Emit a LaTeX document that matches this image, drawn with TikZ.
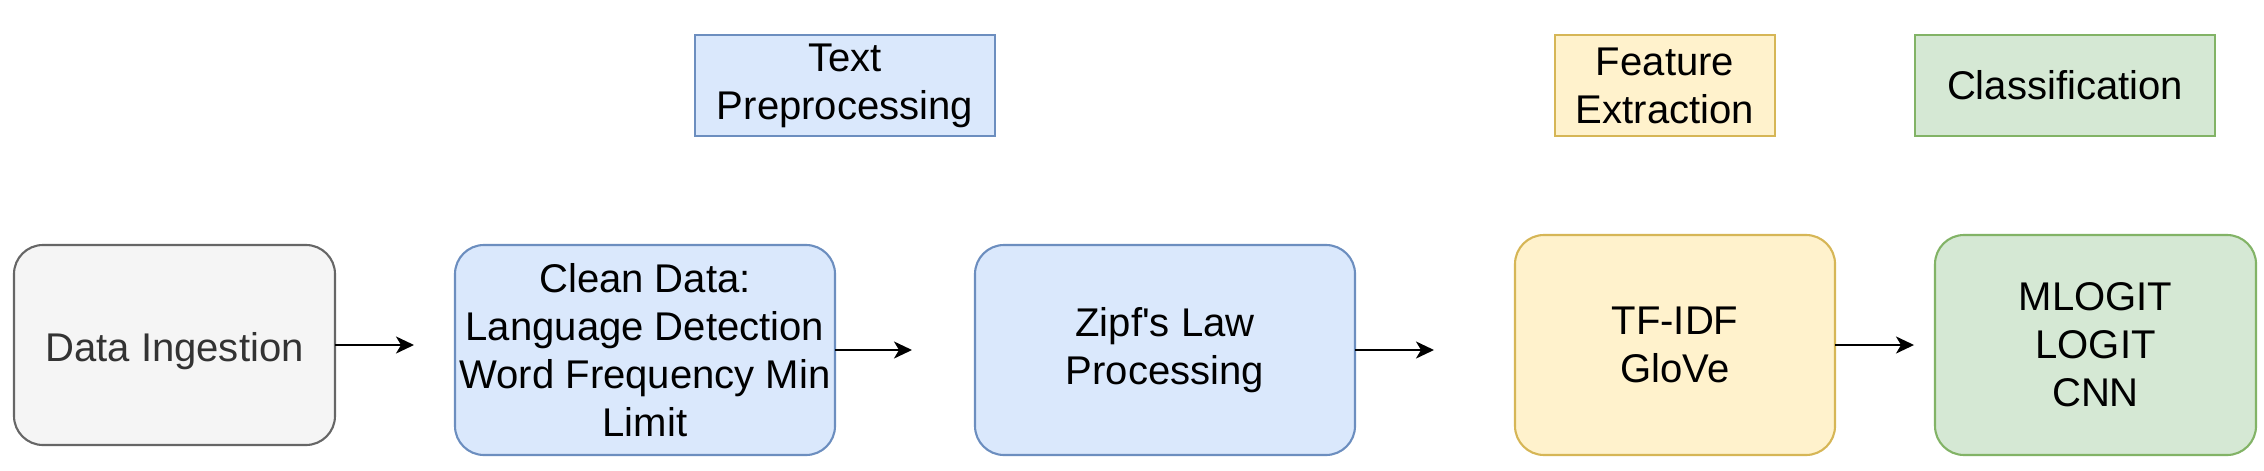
\documentclass[tikz,border=0pt]{standalone}
\usepackage{fontspec}
\setmainfont{Liberation Sans}
\usetikzlibrary{arrows.meta,positioning,calc}
\definecolor{grayfill}{HTML}{F5F5F5}
\definecolor{graydraw}{HTML}{666666}
\definecolor{graytext}{HTML}{333333}
\definecolor{bluefill}{HTML}{DAE8FC}
\definecolor{bluedraw}{HTML}{6C8EBF}
\definecolor{yellowfill}{HTML}{FFF2CC}
\definecolor{yellowdraw}{HTML}{D6B656}
\definecolor{greenfill}{HTML}{D5E8D4}
\definecolor{greendraw}{HTML}{82B366}
\tikzset{
    stage/.style={
        draw,
        line width=0.6pt,
        rounded corners=2.9mm,
        align=center,
        inner sep=0pt,
        outer sep=0pt,
        font=\fontsize{11.4pt}{13.7pt}\selectfont
    },
    phase/.style={
        draw,
        line width=0.6pt,
        align=center,
        inner sep=0pt,
        outer sep=0pt,
        minimum height=10.1mm,
        font=\fontsize{11.4pt}{13.7pt}\selectfont
    },
    lower/.style={execute at begin node={\rule{0pt}{#1}}},
    ingeststyle/.style={fill=grayfill, draw=graydraw, text=graytext},
    bluestyle/.style={fill=bluefill, draw=bluedraw},
    yellowstyle/.style={fill=yellowfill, draw=yellowdraw},
    greenstyle/.style={fill=greenfill, draw=greendraw},
    arrow/.style={
        -{Stealth[length=1.8mm, width=1.7mm, inset=0.5mm]},
        line width=0.6pt
    }
}
\begin{document}
\begin{tikzpicture}[node distance=12mm]
\useasboundingbox (0,0) rectangle (22.64,4.70);

\node[stage, ingeststyle, lower=11.5pt, minimum width=32.1mm, minimum height=20mm] (ingest)
    at (1.745,1.25) {Data Ingestion};
\node[stage, bluestyle, minimum width=38mm, minimum height=21mm,
      right=12mm of ingest, yshift=-0.5mm] (clean)
    {Clean Data:\\Language Detection\\Word Frequency Min\\Limit};
\node[stage, bluestyle, lower=11.5pt, minimum width=38mm, minimum height=21mm,
      right=14mm of clean] (zipf)
    {Zipf\textquotesingle s Law\\Processing};
\node[stage, yellowstyle, lower=11.5pt, minimum width=32mm, minimum height=22mm,
      right=16mm of zipf, yshift=0.5mm] (tfidf)
    {TF-IDF\\GloVe};
\node[stage, greenstyle, minimum width=32.1mm, minimum height=22mm,
      right=10mm of tfidf] (models)
    {MLOGIT\\LOGIT\\CNN};

\node[phase, bluestyle, lower=10pt, minimum width=30mm] (prep) at (8.45,3.845)
    {Text\\Preprocessing};
\node[phase, yellowstyle, minimum width=22mm] (feat) at (16.65,3.845)
    {Feature\\Extraction};
\node[phase, greenstyle, minimum width=30mm] (class) at (20.65,3.845)
    {Classification};

\draw[arrow, shorten >=4.1mm] (ingest.east) -- (ingest.east -| clean.west);
\draw[arrow, shorten >=6.3mm] (clean.east) -- (clean.east -| zipf.west);
\draw[arrow, shorten >=8.1mm] (zipf.east) -- (zipf.east -| tfidf.west);
\draw[arrow, shorten >=2.1mm] (tfidf.east) -- (tfidf.east -| models.west);

\end{tikzpicture}
\end{document}
